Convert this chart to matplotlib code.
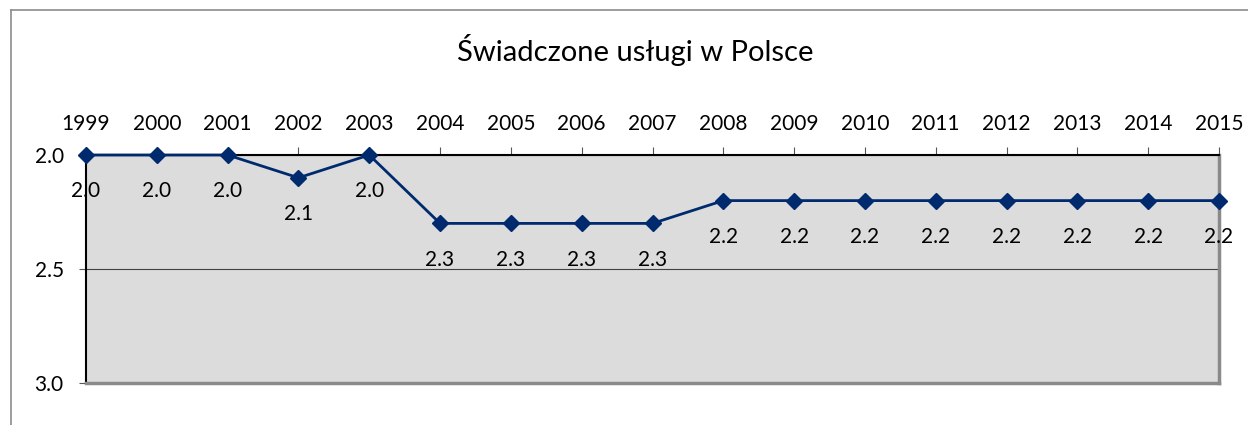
import matplotlib
matplotlib.use("Agg")
import matplotlib.pyplot as plt
from matplotlib.lines import Line2D

plt.rcParams['font.family'] = ['Lato', 'DejaVu Sans']

years = [str(y) for y in range(1999, 2016)]
values = [2.0, 2.0, 2.0, 2.1, 2.0, 2.3, 2.3, 2.3, 2.3, 2.2, 2.2, 2.2, 2.2, 2.2, 2.2, 2.2, 2.2]
y_ticks = [2.0, 2.5, 3.0]
title = "Świadczone usługi w Polsce"

W, H = 1248, 425
fig = plt.figure(figsize=(W / 100, H / 100), dpi=100)
fig.patch.set_facecolor('white')

# outer chart frame (partly cut off)
fig.add_artist(Line2D([11 / W, 11 / W], [0, 1 - 10 / H], color='#8c8c8c', lw=1.2))
fig.add_artist(Line2D([11 / W, 1], [1 - 10 / H, 1 - 10 / H], color='#8c8c8c', lw=1.2))

ax = fig.add_axes([86 / W, (H - 383) / H, (1219 - 86) / W, (383 - 155) / H])
ax.set_facecolor('#dcdcdc')

x = list(range(len(years)))
ax.plot(x, values, color='#002a6e', lw=2, marker='D', markersize=8,
        markerfacecolor='#002a6e', markeredgecolor='#002a6e', zorder=3, clip_on=False)

for xi, v in zip(x, values):
    ax.annotate(f"{v:.1f}", (xi, v), xytext=(0, -26), textcoords='offset points',
                ha='center', va='center', fontsize=15, color='black', zorder=4)

ax.set_xlim(0, len(years) - 1)
ax.set_ylim(3.0, 2.0)
ax.set_yticks(y_ticks)
ax.set_yticklabels([f"{t:.1f}" for t in y_ticks], fontsize=15)
ax.set_xticks(x)
ax.set_xticklabels(years, fontsize=15)
ax.xaxis.tick_top()
ax.tick_params(axis='x', length=6, width=0.8, color='#555555', pad=9)
ax.tick_params(axis='y', length=5, width=0.8, color='#555555', pad=11)

ax.grid(axis='y', color='#404040', lw=0.8)
ax.set_axisbelow(True)

ax.spines['left'].set_color('black')
ax.spines['left'].set_linewidth(1.5)
ax.spines['top'].set_color('black')
ax.spines['top'].set_linewidth(1.5)
ax.spines['right'].set_color('#8a8a8a')
ax.spines['right'].set_linewidth(2.5)
ax.spines['bottom'].set_color('#8a8a8a')
ax.spines['bottom'].set_linewidth(2.5)

fig.text(635 / W, 1 - 50 / H, title, ha='center', va='center', fontsize=21, color='black')

fig.savefig('out.png', dpi=100)
